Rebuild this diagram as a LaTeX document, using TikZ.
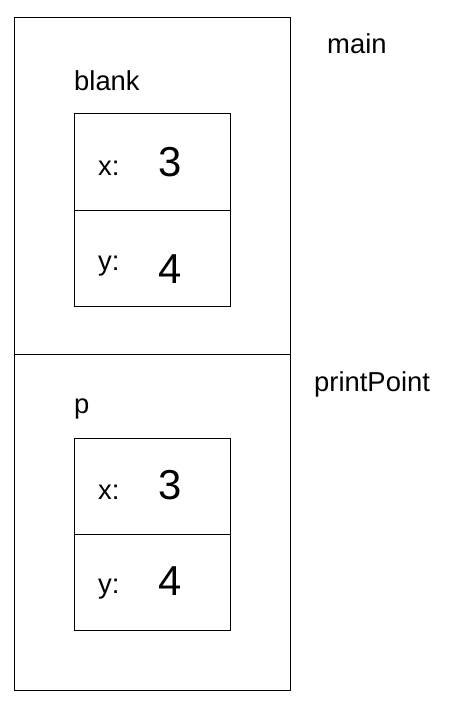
\documentclass[tikz,border=0pt]{standalone}
\usepackage{fontspec}
\setmainfont{Liberation Sans}
\begin{document}
\begin{tikzpicture}[x=1bp,y=-1bp,
  frame/.style={draw=black,line width=1bp},
  lbl/.style={anchor=base west,inner sep=0pt,font=\fontsize{27.5}{30}\selectfont},
  val/.style={anchor=base west,inner sep=0pt,font=\fontsize{42}{46}\selectfont}]
\useasboundingbox (0,0) rectangle (450,704);
% outer stack
\draw[frame] (14,18) rectangle (290,690);
\draw[frame] (14,354) -- (290,354);
% frame labels
\node[lbl] (main) at (327,54) {main};
\node[lbl] (pp) at (314,391.5) {printPoint};
% main frame
\node[lbl] (blank) at (74,91) {blank};
\draw[frame] (74,114) rectangle (230,306);
\draw[frame] (74,210) -- (230,210);
\node[lbl] (bx) at (98,175) {x:};
\node[val] (bxv) at (158,176) {3};
\node[lbl] (by) at (98,270) {y:};
\node[val] (byv) at (158,283) {4};
% printPoint frame
\node[lbl] (p) at (74,413) {p};
\draw[frame] (74,438) rectangle (230,630);
\draw[frame] (74,534) -- (230,534);
\node[lbl] (px) at (98,499) {x:};
\node[val] (pxv) at (158,499) {3};
\node[lbl] (py) at (98,593) {y:};
\node[val] (pyv) at (158,595) {4};
\end{tikzpicture}
\end{document}
